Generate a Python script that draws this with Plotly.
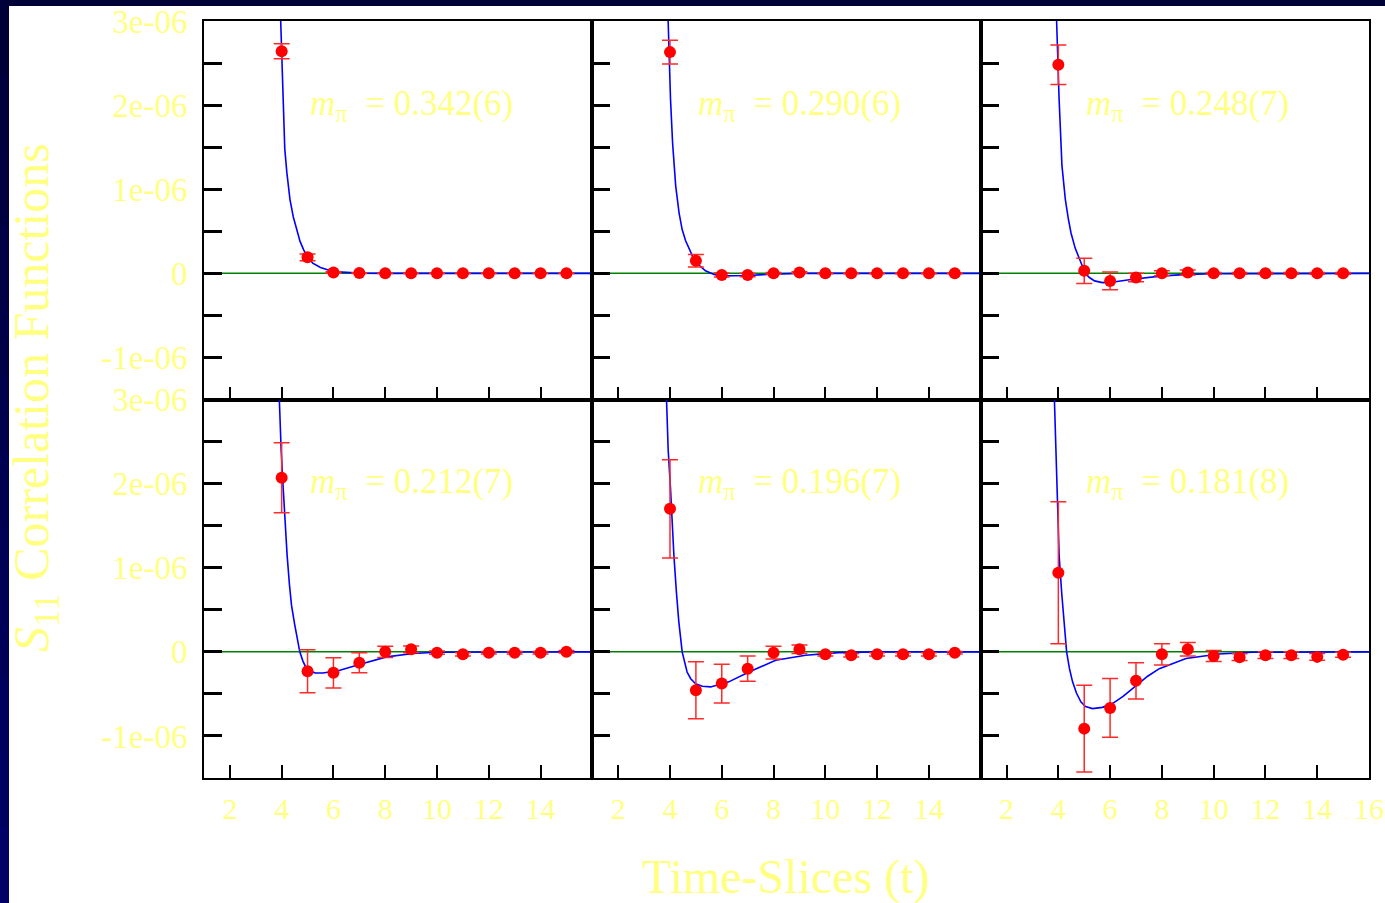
import plotly.graph_objects as go

# ---------------- data (values in units of 1e-6) ----------------
SCALE = 1e-6
t_slices = [4, 5, 6, 7, 8, 9, 10, 11, 12, 13, 14, 15]

p1_val = [2.64, 0.19, 0.01, 0.003, 0.0, 0.0, 0.0, 0.0, 0.0, 0.0, 0.0, 0.0]
p1_err = [0.09, 0.04, 0.01, 0.005, 0.003, 0.003, 0.003, 0.003, 0.003, 0.003, 0.003, 0.003]
p2_val = [2.63, 0.15, -0.02, -0.02, 0.0, 0.01, 0.0, 0.0, 0.0, 0.0, 0.0, 0.0]
p2_err = [0.14, 0.075, 0.025, 0.02, 0.01, 0.01, 0.005, 0.005, 0.005, 0.005, 0.005, 0.005]
p3_val = [2.48, 0.03, -0.09, -0.05, 0.0, 0.01, 0.0, 0.0, 0.0, 0.0, 0.0, 0.0]
p3_err = [0.235, 0.15, 0.105, 0.05, 0.03, 0.03, 0.01, 0.01, 0.01, 0.01, 0.01, 0.01]
p4_val = [2.07, -0.23, -0.25, -0.13, 0.0, 0.03, -0.01, -0.03, -0.01, -0.01, -0.01, 0.0]
p4_err = [0.415, 0.255, 0.18, 0.12, 0.067, 0.04, 0.02, 0.02, 0.015, 0.015, 0.015, 0.015]
p5_val = [1.70, -0.457, -0.377, -0.2, -0.01, 0.03, -0.03, -0.04, -0.03, -0.03, -0.03, -0.01]
p5_err = [0.585, 0.34, 0.23, 0.15, 0.075, 0.05, 0.02, 0.02, 0.02, 0.02, 0.02, 0.015]
p6_val = [0.94, -0.913, -0.667, -0.345, -0.03, 0.03, -0.05, -0.064, -0.04, -0.04, -0.06, -0.035]
p6_err = [0.845, 0.515, 0.35, 0.215, 0.127, 0.08, 0.065, 0.04, 0.04, 0.04, 0.04, 0.03]

# fitted curves
c1_t = [3.9, 3.97, 4.0, 4.05, 4.12, 4.2, 4.32, 4.45, 4.57, 4.71, 4.85, 4.97, 5.2, 5.5, 6.0, 7.0, 8.0, 16.0]
c1_v = [3.6, 3.0, 2.55, 2.07, 1.48, 1.2, 0.88, 0.67, 0.52, 0.38, 0.28, 0.21, 0.12, 0.07, 0.02, 0.003, 0.0, 0.0]
c2_t = [3.85, 3.92, 4.02, 4.1, 4.22, 4.35, 4.47, 4.6, 4.73, 4.86, 4.99, 5.15, 5.37, 5.7, 6.0, 6.5, 7.0, 8.0, 9.0, 16.0]
c2_v = [3.8, 3.0, 2.07, 1.55, 1.04, 0.72, 0.52, 0.39, 0.29, 0.21, 0.15, 0.09, 0.03, -0.015, -0.03, -0.03, -0.025, -0.01, 0.0, 0.0]
c3_t = [3.85, 3.93, 4.03, 4.14, 4.27, 4.38, 4.49, 4.65, 4.81, 4.93, 5.04, 5.2, 5.4, 5.7, 6.2, 6.87, 7.5, 8.03, 9.0, 10.0, 16.0]
c3_v = [3.8, 3.0, 2.07, 1.28, 0.88, 0.66, 0.48, 0.30, 0.17, 0.08, 0.0, -0.05, -0.09, -0.11, -0.10, -0.07, -0.045, -0.03, -0.012, -0.005, 0.0]
c4_t = [3.84, 3.9, 3.98, 4.06, 4.13, 4.21, 4.3, 4.38, 4.5, 4.6, 4.7, 4.82, 4.96, 5.1, 5.3, 5.6, 6.25, 7.0, 8.05, 9.08, 10.0, 16.0]
c4_v = [3.6, 3.0, 2.4, 1.94, 1.5, 1.15, 0.8, 0.555, 0.33, 0.16, 0.0, -0.11, -0.2, -0.235, -0.25, -0.252, -0.22, -0.15, -0.06, -0.02, -0.005, 0.0]
c5_t = [3.78, 3.85, 3.93, 4.02, 4.08, 4.15, 4.25, 4.34, 4.47, 4.56, 4.66, 4.8, 4.99, 5.25, 5.57, 6.27, 7.05, 8.08, 9.24, 10.5, 12.0, 16.0]
c5_v = [3.8, 3.0, 2.4, 1.94, 1.5, 1.15, 0.7, 0.36, 0.0, -0.13, -0.24, -0.32, -0.38, -0.41, -0.417, -0.357, -0.24, -0.10, -0.04, -0.01, 0.0, 0.0]
c6_t = [3.77, 3.84, 3.95, 4.03, 4.13, 4.23, 4.32, 4.43, 4.55, 4.7, 4.87, 5.05, 5.32, 5.7, 6.09, 6.5, 7.0, 7.45, 7.9, 8.93, 10.2, 11.5, 16.0]
c6_v = [3.8, 3.0, 1.94, 1.15, 0.7, 0.357, 0.0, -0.2, -0.357, -0.49, -0.595, -0.65, -0.675, -0.66, -0.615, -0.53, -0.40, -0.29, -0.2, -0.08, -0.025, -0.005, 0.0]

mass_labels = ["0.342(6)", "0.290(6)", "0.248(7)", "0.212(7)", "0.196(7)", "0.181(8)"]

y_tickvals = [-1.0, 0.0, 1.0, 2.0, 3.0]
y_ticktext = ["-1e-06", "0", "1e-06", "2e-06", "3e-06"]
y_minorvals = [-0.5, 0.5, 1.5, 2.5]
x_tickvals_inner = [2, 4, 6, 8, 10, 12, 14]
x_tickvals_last = [2, 4, 6, 8, 10, 12, 14, 16]

# ---------------- styling ----------------
YELLOW = "#ffff80"
SERIF = "Liberation Serif, DejaVu Serif, serif"
W, H = 1385, 903
ML, MR, MT, MB = 204, 16, 21, 125

panels = [
    (p1_val, p1_err, c1_t, c1_v),
    (p2_val, p2_err, c2_t, c2_v),
    (p3_val, p3_err, c3_t, c3_v),
    (p4_val, p4_err, c4_t, c4_v),
    (p5_val, p5_err, c5_t, c5_v),
    (p6_val, p6_err, c6_t, c6_v),
]

fig = go.Figure()
layout = {}
annotations = []
shapes = []

for i, (vals, errs, ct, cv) in enumerate(panels):
    r, c = divmod(i, 3)
    sfx = "" if i == 0 else str(i + 1)
    xa, ya = "x" + sfx, "y" + sfx

    # zero reference line
    shapes.append(dict(type="line", xref=xa + " domain", yref=ya, x0=0, x1=1, y0=0, y1=0,
                       line=dict(color="#008000", width=1.5), layer="below"))

    fig.add_trace(go.Scatter(
        x=ct, y=[v * SCALE for v in cv], mode="lines",
        line=dict(color="#0000ff", width=1.6),
        xaxis=xa, yaxis=ya, showlegend=False, hoverinfo="skip"))
    fig.add_trace(go.Scatter(
        x=t_slices, y=[v * SCALE for v in vals], mode="markers",
        marker=dict(color="#ff0000", size=12, line=dict(width=0)),
        error_y=dict(type="data", array=[e * SCALE for e in errs], visible=True,
                     color="#ff2a2a", thickness=1.5, width=8),
        xaxis=xa, yaxis=ya, showlegend=False))

    xt = x_tickvals_last if c == 2 else x_tickvals_inner
    layout["xaxis" + sfx] = dict(
        domain=[c / 3, (c + 1) / 3], anchor=ya, range=[1, 16],
        tickmode="array", tickvals=xt, ticktext=[str(v) for v in xt],
        showticklabels=(r == 1), ticks="inside", ticklen=13, tickwidth=2, tickcolor="black",
        showline=True, linecolor="black", linewidth=2, mirror=True,
        showgrid=False, zeroline=False, ticklabelstandoff=3, automargin=False,
        tickfont=dict(family=SERIF, size=30, color=YELLOW))
    layout["yaxis" + sfx] = dict(
        domain=[0.5, 1.0] if r == 0 else [0.0, 0.5], anchor=xa,
        range=[-1.5 * SCALE, 3.0 * SCALE],
        tickmode="array", tickvals=[v * SCALE for v in y_tickvals], ticktext=y_ticktext,
        minor=dict(tickmode="array", tickvals=[v * SCALE for v in y_minorvals],
                   ticks="inside", ticklen=18, tickwidth=2.5, tickcolor="black", showgrid=False),
        showticklabels=(c == 0), ticks="inside", ticklen=18, tickwidth=2.5, tickcolor="black",
        showline=True, linecolor="black", linewidth=2, mirror=True,
        showgrid=False, zeroline=False, ticklabelstandoff=8, automargin=False,
        tickfont=dict(family=SERIF, size=33, color=YELLOW))

    annotations.append(dict(
        x=5, y=2.0 * SCALE, xref=xa, yref=ya, xanchor="left", yanchor="middle",
        text="<i>m</i><sub>π</sub>&nbsp;&nbsp;=&nbsp;" + mass_labels[i], showarrow=False,
        font=dict(family=SERIF, size=35, color=YELLOW)))

plot_w = W - ML - MR
plot_h = H - MT - MB


def px_to_paper_x(px):
    return (px - ML) / plot_w


def py_to_paper_y(py):
    return (H - MB - py) / plot_h


annotations.append(dict(
    x=px_to_paper_x(786), y=py_to_paper_y(877), xref="paper", yref="paper",
    xanchor="center", yanchor="middle", text="Time-Slices (t)", showarrow=False,
    font=dict(family=SERIF, size=48, color=YELLOW)))
annotations.append(dict(
    x=px_to_paper_x(35), y=py_to_paper_y(398), xref="paper", yref="paper",
    xanchor="center", yanchor="middle", textangle=-90,
    text="<i>S</i><sub>11</sub> Correlation Functions", showarrow=False,
    font=dict(family=SERIF, size=50, color=YELLOW)))

# navy slide border strips (top and left), left one shaded darker->lighter downwards
n_seg = 12
for k in range(n_seg):
    y_top = k * H / n_seg
    y_bot = min(H, (k + 1) * H / n_seg + 2)
    frac = k / (n_seg - 1)
    blue = int(0x38 + frac * (0x66 - 0x38))
    shapes.append(dict(type="rect", xref="paper", yref="paper",
                       x0=px_to_paper_x(0), x1=px_to_paper_x(9),
                       y0=py_to_paper_y(y_bot), y1=py_to_paper_y(y_top),
                       fillcolor="#0000%02x" % blue, line=dict(width=0), layer="below"))
shapes.append(dict(type="rect", xref="paper", yref="paper",
                   x0=px_to_paper_x(0), x1=px_to_paper_x(W), y0=py_to_paper_y(6), y1=py_to_paper_y(0),
                   fillcolor="#000038", line=dict(width=0), layer="below"))

fig.update_layout(
    width=W, height=H, margin=dict(l=ML, r=MR, t=MT, b=MB, autoexpand=False),
    paper_bgcolor="white", plot_bgcolor="white",
    showlegend=False, annotations=annotations, shapes=shapes, **layout)

fig.write_html("out.html")
